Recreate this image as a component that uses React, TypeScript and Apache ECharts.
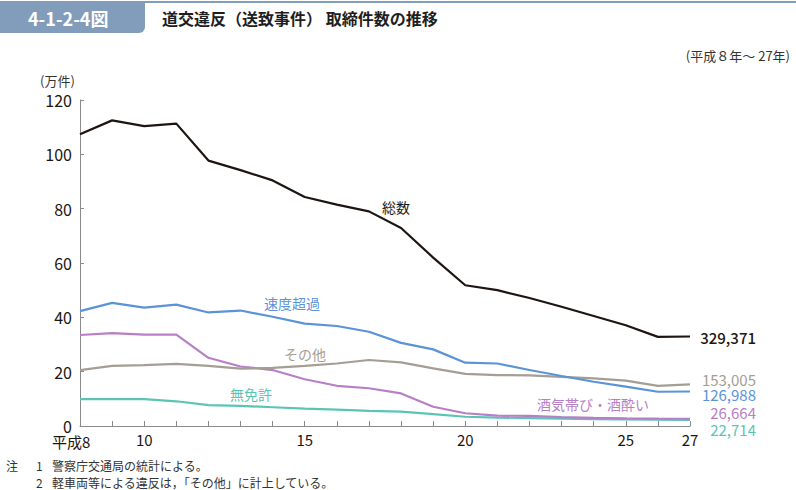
import React, { useEffect, useRef } from "react";
import * as echarts from "echarts";

const years = ["8","9","10","11","12","13","14","15","16","17","18","19","20","21","22","23","24","25","26","27"];
const shownYears = ["10", "15", "20", "25", "27"];
const firstYearLabel = "平成8";
const total = [107.4,112.5,110.4,111.3,97.7,94.2,90.4,84.3,81.5,79.0,72.9,62.0,51.8,50.0,47.1,43.9,40.5,37.1,32.8,32.94];
const speeding = [42.3,45.3,43.6,44.7,41.8,42.5,40.2,37.7,36.8,34.7,30.6,28.2,23.3,23.0,20.6,18.4,16.3,14.5,12.6,12.7];
const other = [20.6,22.1,22.4,22.9,22.1,21.1,21.4,22.1,23.0,24.3,23.4,21.2,19.2,18.75,18.6,18.1,17.5,16.7,14.8,15.3];
const drunk = [33.5,34.2,33.6,33.6,25.1,21.9,20.6,17.2,14.8,13.9,12.0,7.1,4.7,3.8,3.7,3.3,3.0,2.8,2.7,2.67];
const unlicensed = [9.9,9.9,9.9,9.1,7.7,7.4,6.9,6.4,6.0,5.6,5.3,4.4,3.4,3.1,2.9,2.7,2.5,2.4,2.3,2.27];
const endLabels = ["329,371", "153,005", "126,988", "26,664", "22,714"];
const seriesNames = ["総数", "速度超過", "その他", "無免許", "酒気帯び・酒酔い"];

const FONT = "'Noto Sans CJK JP', 'Noto Sans', sans-serif";
const C_BLACK = "#1c1512";
const C_BLUE = "#5b93d9";
const C_GRAY = "#a49e93";
const C_PURPLE = "#b87fc6";
const C_TEAL = "#5cc4b5";
const C_HEAD = "#819dbb";
const C_AXIS = "#8a8a8a";

export default function App() {
  const ref = useRef<HTMLDivElement>(null);
  useEffect(() => {
    if (!ref.current) return;
    const chart = echarts.init(ref.current, null, { renderer: "svg" });
    const txt = (x: number, y: number, text: string, fill: string, fontSize: number, align = "left", fontWeight: any = "normal", lineHeight?: number) => ({
      type: "text",
      x, y,
      style: { text, fill, fontSize, fontFamily: FONT, align, verticalAlign: "middle", fontWeight, lineHeight: lineHeight ?? Math.round(fontSize * 1.2) },
      silent: true,
    });
    const line = (name: string, data: number[], color: string, z: number) => ({
      name, type: "line", data, symbol: "none", z,
      lineStyle: { color, width: 2.2 },
      itemStyle: { color },
    });
    chart.setOption({
      animation: false,
      backgroundColor: "#ffffff",
      grid: { left: 80, right: 106, top: 100, bottom: 64 },
      xAxis: {
        type: "category",
        data: years,
        boundaryGap: false,
        axisLine: { lineStyle: { color: C_AXIS, width: 1 } },
        axisTick: { inside: true, length: 5, interval: 0, lineStyle: { color: C_AXIS } },
        axisLabel: {
          interval: (i: number, v: string) => shownYears.includes(v),
          color: C_BLACK, fontSize: 15, fontFamily: FONT, margin: 6,
        },
      },
      yAxis: {
        type: "value",
        min: 0, max: 120, interval: 20,
        splitLine: { show: false },
        axisLine: { show: true, lineStyle: { color: C_AXIS, width: 1 } },
        axisTick: { show: true, inside: true, length: 4, lineStyle: { color: C_AXIS } },
        axisLabel: { color: C_BLACK, fontSize: 16, fontFamily: FONT, margin: 8 },
      },
      series: [
        line(seriesNames[3], unlicensed, C_TEAL, 2),
        line(seriesNames[4], drunk, C_PURPLE, 3),
        line(seriesNames[2], other, C_GRAY, 4),
        line(seriesNames[1], speeding, C_BLUE, 5),
        line(seriesNames[0], total, C_BLACK, 6),
      ],
      graphic: [
        { type: "rect", shape: { x: 0, y: 1, width: 145, height: 32, r: [0, 0, 6, 0] }, style: { fill: C_HEAD }, silent: true },
        { type: "rect", shape: { x: 145, y: 1, width: 651, height: 2 }, style: { fill: C_HEAD }, silent: true },
        txt(28, 18, "4-1-2-4図", "#ffffff", 18, "left", "bold"),
        txt(162, 18, "道交違反（送致事件） 取締件数の推移", "#1e1e1e", 16, "left", "bold"),
        txt(790, 55, "(平成８年～ 27年)", "#333333", 13, "right"),
        txt(40, 80, "(万件)", "#333333", 13, "left"),
        txt(52, 441, firstYearLabel, C_BLACK, 15, "left"),
        txt(396, 207, seriesNames[0], C_BLACK, 14, "center"),
        txt(292, 303, seriesNames[1], C_BLUE, 14, "center"),
        txt(305, 354, seriesNames[2], C_GRAY, 14, "center"),
        txt(251, 394, seriesNames[3], C_TEAL, 14, "center"),
        txt(593, 404, seriesNames[4], C_PURPLE, 14, "center"),
        txt(756, 337, endLabels[0], C_BLACK, 15, "right", 500, 14),
        txt(756, 379, endLabels[1], C_GRAY, 15, "right", "normal", 13),
        txt(756, 394, endLabels[2], C_BLUE, 15, "right", "normal", 13),
        txt(756, 412, endLabels[3], C_PURPLE, 15, "right", "normal", 13),
        txt(756, 429, endLabels[4], C_TEAL, 15, "right", "normal", 13),
        txt(6, 465, "注", "#333333", 12, "left"),
        txt(36, 465, "1", "#333333", 12, "left"),
        txt(52, 465, "警察庁交通局の統計による。", "#333333", 12, "left"),
        txt(36, 482, "2", "#333333", 12, "left"),
        txt(52, 482, "軽車両等による違反は，「その他」に計上している。", "#333333", 12, "left"),
      ],
    });
    return () => chart.dispose();
  }, []);
  return (
    <div
      ref={ref}
      style={{ position: "fixed", left: 0, top: 0, width: 796, height: 490, background: "#fff" }}
    />
  );
}
